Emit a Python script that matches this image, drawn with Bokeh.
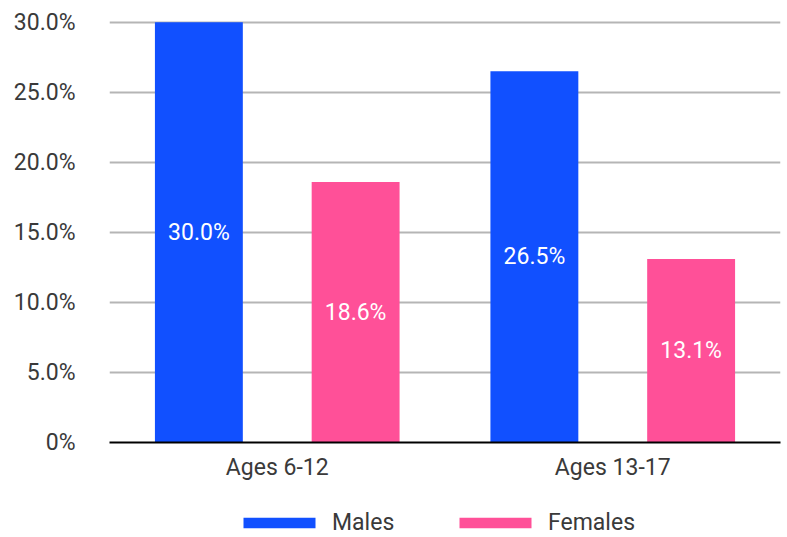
from bokeh.plotting import figure
from bokeh.layouts import column
from bokeh.models import ColumnDataSource, FactorRange, Range1d, FixedTicker, Legend, LegendItem
from bokeh.transform import dodge
from bokeh.core.properties import value
from bokeh.embed import file_html
from bokeh.resources import INLINE

groups = ["Ages 6-12", "Ages 13-17"]
males = [30.0, 26.5]
females = [18.6, 13.1]
series = ["Males", "Females"]
colors = ["#1150ff", "#ff5098"]
y_ticks = [0, 5, 10, 15, 20, 25, 30]
y_tick_labels = ["0%", "5.0%", "10.0%", "15.0%", "20.0%", "25.0%", "30.0%"]

src = ColumnDataSource(dict(
    g=groups,
    m=males,
    f=females,
    m_mid=[v / 2 for v in males],
    f_mid=[v / 2 for v in females],
    m_lab=["%.1f%%" % v for v in males],
    f_lab=["%.1f%%" % v for v in females],
))

FONT = "Roboto"
FS = "23px"
TXT = "#3a3a3a"
OFF = 0.2336
BW = 0.262

p = figure(width=787, height=490, x_range=FactorRange(*groups, range_padding=0),
           y_range=Range1d(0, 30.2), output_backend="svg", toolbar_location=None,
           min_border_left=109, min_border_right=7, min_border_top=19, min_border_bottom=48)
p.outline_line_color = None

r_m = p.vbar(x=dodge("g", -OFF, range=p.x_range), top="m", width=BW, source=src,
             fill_color=colors[0], line_color=None)
r_f = p.vbar(x=dodge("g", OFF, range=p.x_range), top="f", width=BW, source=src,
             fill_color=colors[1], line_color=None)

for col, lab, off in (("m_mid", "m_lab", -OFF), ("f_mid", "f_lab", OFF)):
    p.text(x=dodge("g", off, range=p.x_range), y=col, text=lab, source=src,
           text_align="center", text_baseline="middle", text_color="white",
           text_font=value(FONT), text_font_size=FS)

p.xgrid.grid_line_color = None
p.ygrid.grid_line_color = "#b5b5b5"
p.ygrid.grid_line_width = 2
p.ygrid.ticker = FixedTicker(ticks=y_ticks)

p.yaxis.ticker = FixedTicker(ticks=y_ticks)
p.yaxis.major_label_overrides = {t: l for t, l in zip(y_ticks, y_tick_labels)}
p.yaxis.axis_line_color = None
p.yaxis.major_tick_line_color = None
p.yaxis.minor_tick_line_color = None
p.yaxis.major_tick_out = 0
p.yaxis.major_label_standoff = 34
p.yaxis.major_label_text_font = FONT
p.yaxis.major_label_text_font_size = FS
p.yaxis.major_label_text_color = TXT

p.xaxis.axis_line_color = "black"
p.xaxis.axis_line_width = 2
p.xaxis.major_tick_line_color = None
p.xaxis.major_tick_out = 0
p.xaxis.major_label_standoff = 11
p.xaxis.major_label_text_font = FONT
p.xaxis.major_label_text_font_size = FS
p.xaxis.major_label_text_color = TXT

# legend strip below the chart (zero-height swatch renderers carry the colours)
lg = figure(width=787, height=47, x_range=Range1d(0, 1), y_range=Range1d(0, 1),
            output_backend="svg", toolbar_location=None,
            min_border_left=109, min_border_right=7, min_border_top=0, min_border_bottom=0)
lg.axis.visible = False
lg.grid.visible = False
lg.outline_line_color = None
d_m = lg.vbar(x=[0.5], top=[0], bottom=[0], width=0.1, fill_color=colors[0], line_color=None)
d_f = lg.vbar(x=[0.5], top=[0], bottom=[0], width=0.1, fill_color=colors[1], line_color=None)

legend = Legend(items=[LegendItem(label=series[0], renderers=[d_m]),
                       LegendItem(label=series[1], renderers=[d_f])],
                orientation="horizontal", location=(125, 1),
                glyph_width=90, glyph_height=13, label_standoff=8, spacing=38,
                label_width=80, padding=0, margin=0, border_line_color=None,
                label_text_font=FONT, label_text_font_size=FS,
                label_text_color=TXT, background_fill_alpha=0)
lg.add_layout(legend, "center")

open("out.html", "w").write(file_html(column(p, lg, spacing=0), INLINE))
